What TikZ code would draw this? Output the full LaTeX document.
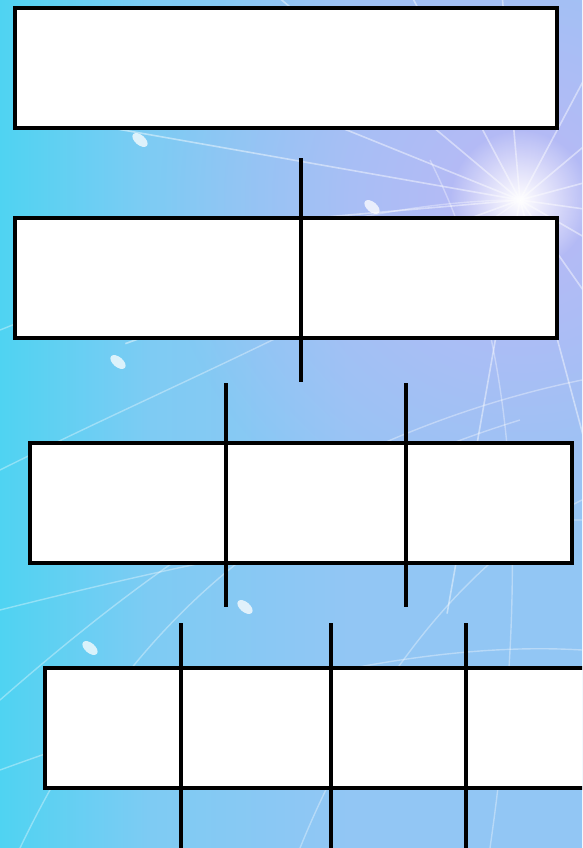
\documentclass[tikz,border=0pt]{standalone}
\usetikzlibrary{positioning,fadings}
\usepackage{xcolor}
\definecolor{skycyan}{HTML}{4FD3F2}
\definecolor{skymid}{HTML}{7ECBF3}
\definecolor{skyblue}{HTML}{92C6F4}
\definecolor{skylilac}{HTML}{BCB8F6}

\tikzfading[name=glowout, inner color=transparent!0, outer color=transparent!100]
\pgfdeclarehorizontalshading{skyshade}{100bp}{color(0bp)=(skycyan); color(25bp)=(skycyan); color(38bp)=(skymid); color(55bp)=(skyblue); color(100bp)=(skyblue)}

\tikzset{
  tierbox/.style={draw=black, fill=white, line width=4pt, minimum height=120pt, inner sep=0pt},
  stem/.style={draw=black, line width=4pt},
  ray/.style={white, opacity=0.45, line width=1.6pt},
  streak/.style={white, opacity=0.35, line width=1.4pt},
}

\begin{document}
\begin{tikzpicture}[x=1pt, y=-1pt]
  \useasboundingbox (0,0) rectangle (582,848);
  \clip (0,0) rectangle (582,848);
  % Background: sky gradient with a light burst
  \shade[shading=skyshade] (0,0) rectangle (582,848);
  \fill[skylilac, path fading=glowout] (520,200) circle (360pt);
  \fill[white, path fading=glowout] (520,200) circle (70pt);
  \coordinate (burst) at (520,200);
  \foreach \a in {-100,-75,-55,-30,-8,15,40,62,95,118,140,158,170,185,200}
    \draw[ray] (burst) -- ++(\a:420pt);
  \draw[streak] (0,330) .. controls (200,250) and (380,200) .. (burst);
  \draw[streak] (0,470) .. controls (180,380) and (380,300) .. (burst);
  \draw[streak] (0,700) .. controls (160,560) and (340,430) .. (582,380);
  \draw[streak] (20,848) .. controls (120,640) and (260,500) .. (520,420);
  \draw[streak] (0,610) .. controls (200,560) and (380,520) .. (582,520);
  \draw[streak] (0,770) .. controls (220,690) and (420,640) .. (582,650);
  \draw[streak] (300,848) .. controls (360,700) and (460,560) .. (582,500);
  \draw[streak] (430,160) .. controls (500,300) and (540,500) .. (490,848);
  \foreach \p in {(140,140),(372,207),(118,362),(245,607),(90,648)}
    \fill[white, opacity=0.75, rotate around={-40:\p}] \p ellipse (9pt and 5pt);

  % Tiers
  \node[tierbox, minimum width=542pt] (tierA) at (286,68) {};
  \node[tierbox, minimum width=542pt] (tierB) at (286,278) {};
  \node[tierbox, minimum width=542pt] (tierC) at (301,503) {};
  \node[tierbox, minimum width=560pt] (tierD) at (325,728) {};

  % Dividers
  \coordinate (sB1) at (301,158);  \coordinate (eB1) at (301,382);
  \coordinate (sC1) at (226,383);  \coordinate (eC1) at (226,607);
  \coordinate (sC2) at (406,383);  \coordinate (eC2) at (406,607);
  \coordinate (sD1) at (181,623);  \coordinate (eD1) at (181,850);
  \coordinate (sD2) at (331,623);  \coordinate (eD2) at (331,850);
  \coordinate (sD3) at (466,623);  \coordinate (eD3) at (466,850);
  \foreach \s in {B1,C1,C2,D1,D2,D3}
    \draw[stem] (s\s) -- (e\s);
\end{tikzpicture}
\end{document}
